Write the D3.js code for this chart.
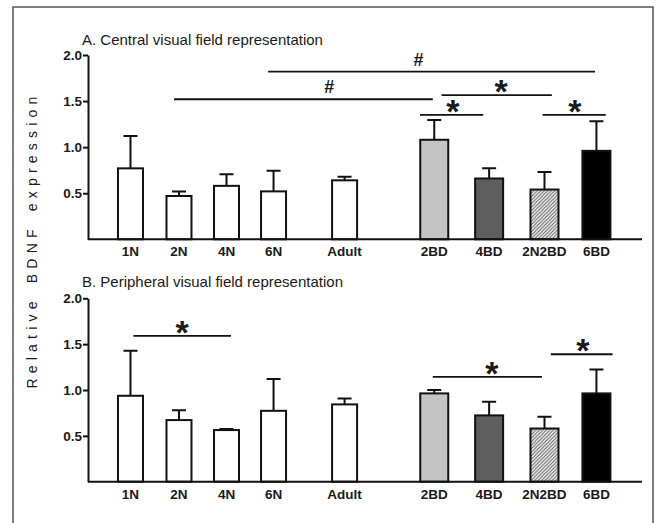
<!DOCTYPE html>
<html><head><meta charset="utf-8">
<script src="https://cdn.jsdelivr.net/npm/d3@7"></script>
<style>
html,body{margin:0;padding:0;background:#fff;}
svg{display:block;}
text{font-family:"Liberation Sans",Arial,sans-serif;fill:#1a1a1a;}
</style></head><body>
<svg id="c" width="657" height="523"></svg>
<script>
// ---- data ----
const categories = ["1N","2N","4N","6N","Adult","2BD","4BD","2N2BD","6BD"];
const slots = [0, 0.99, 1.96, 2.92, 4.37, 6.2, 7.32, 8.45, 9.51];
const fills = ["white","white","white","white","white","light","dark","hatch","black"];
const centralMean = [0.77, 0.47, 0.58, 0.52, 0.64, 1.08, 0.66, 0.54, 0.96];
const centralErr  = [1.12, 0.52, 0.705, 0.745, 0.68, 1.295, 0.77, 0.73, 1.28];
const periphMean  = [0.937, 0.672, 0.563, 0.773, 0.843, 0.963, 0.723, 0.58, 0.963];
const periphErr   = [1.427, 0.78, 0.574, 1.12, 0.908, 0.999, 0.871, 0.708, 1.224];
const yTicks = [0.5, 1.0, 1.5, 2.0];
// significance annotations: [fromSlot, toSlot, yValue, mark, markFraction]
const centralSig = [
  [2.81, 9.48, 1.82, "#", 0.46],
  [0.89, 6.17, 1.52, "#", 0.60],
  [6.35, 8.60, 1.565, "*", 0.54],
  [5.91, 7.20, 1.35, "*", 0.52],
  [8.41, 9.70, 1.35, "*", 0.51]
];
const periphSig = [
  [0.06, 2.05, 1.59, "*", 0.5],
  [6.17, 8.40, 1.144, "*", 0.54],
  [8.58, 9.84, 1.39, "*", 0.52]
];
const titles = ["A. Central visual field representation", "B. Peripheral visual field representation"];
const yLabel = "Relative BDNF expression";

// ---- drawing ----
const svg = d3.select("#c");
const defs = svg.append("defs");
const pat = defs.append("pattern").attr("id","hatch").attr("patternUnits","userSpaceOnUse")
  .attr("width",3.5).attr("height",3.5);
pat.append("rect").attr("width",3.5).attr("height",3.5).attr("fill","#f2f2f2");
pat.append("path").attr("d","M-1,1 l2,-2 M0,3.5 l3.5,-3.5 M2.5,4.5 l2,-2")
  .attr("stroke","#555").attr("stroke-width",0.9);
const fillColor = {white:"#ffffff", light:"#c4c4c4", dark:"#5e5e5e", hatch:"url(#hatch)", black:"#000000"};

// frame
svg.append("rect").attr("x",13).attr("y",7).attr("width",640).attr("height",530)
  .attr("fill","none").attr("stroke","#555").attr("stroke-width",1.5);

const x = d3.scaleLinear().domain([-0.867, 10.44]).range([88, 642]);

function panel(top0, top2, means, errs, sigs, title, titleY) {
  const y = d3.scaleLinear().domain([0, 2]).range([top0, top2]);
  const g = svg.append("g");
  // title
  g.append("text").attr("x", 82).attr("y", titleY).attr("font-size", 15).text(title);
  // error bars
  const rows = categories.map((c,i)=>({c, s:slots[i], m:means[i], e:errs[i], f:fills[i]}));
  const bw = d => d.f==="white" ? 25 : 28;
  g.selectAll(".eb").data(rows).enter().append("path")
    .attr("d", d => `M${x(d.s)},${y(d.m)}V${y(d.e)}M${x(d.s)-7},${y(d.e)}H${x(d.s)+7}`)
    .attr("stroke","#111").attr("stroke-width",2).attr("fill","none");
  g.selectAll(".bar").data(rows).enter().append("rect")
    .attr("x", d => x(d.s) - bw(d)/2).attr("width", d => bw(d))
    .attr("y", d => y(d.m)).attr("height", d => y(0) - y(d.m))
    .attr("fill", d => fillColor[d.f]).attr("stroke","#111").attr("stroke-width",2);
  // x baseline
  g.append("line").attr("x1", x.range()[0]).attr("x2", x.range()[1])
    .attr("y1", y(0)).attr("y2", y(0)).attr("stroke","#111").attr("stroke-width",2);
  // category labels
  g.selectAll(".xl").data(rows).enter().append("text")
    .attr("x", d => x(d.s)).attr("y", y(0) + 17).attr("text-anchor","middle")
    .attr("font-size",13.5).attr("font-weight","bold").text(d => d.c);
  // y axis
  const ax = g.append("g").attr("transform",`translate(${x.range()[0]},0)`)
    .call(d3.axisLeft(y).tickValues(yTicks).tickSize(5).tickPadding(1).tickSizeOuter(0)
      .tickFormat(d3.format(".1f")));
  ax.select(".domain").attr("stroke","#111").attr("stroke-width",2);
  ax.selectAll(".tick line").attr("stroke","#111").attr("stroke-width",2);
  ax.selectAll(".tick text").attr("font-size",13.5).attr("font-weight","bold")
    .attr("font-family",'"Liberation Sans",Arial,sans-serif').attr("fill","#1a1a1a");
  // significance
  sigs.forEach(([a,b,v,mk,fr]) => {
    g.append("line").attr("x1",x(a)).attr("x2",x(b)).attr("y1",y(v)).attr("y2",y(v))
      .attr("stroke","#111").attr("stroke-width",1.8);
    const mx = x(a) + (x(b)-x(a))*fr;
    if (mk === "#") {
      g.append("text").attr("x",mx).attr("y",y(v)-6).attr("text-anchor","middle")
        .attr("font-size",18).attr("font-weight","bold").text(mk);
    } else {
      g.append("text").attr("x",mx).attr("y",y(v)+8).attr("text-anchor","middle")
        .attr("font-size",34).attr("font-weight","bold").text(mk);
    }
  });
}

panel(239.3, 55, centralMean, centralErr, centralSig, titles[0], 45);
panel(481.7, 298.3, periphMean, periphErr, periphSig, titles[1], 287);

// shared y label
svg.append("text").attr("transform","translate(37,240) rotate(-90)")
  .attr("text-anchor","middle").attr("font-size",14).attr("letter-spacing",5.2)
  .attr("word-spacing",4).attr("fill","#333").text(yLabel);
</script>
</body></html>
